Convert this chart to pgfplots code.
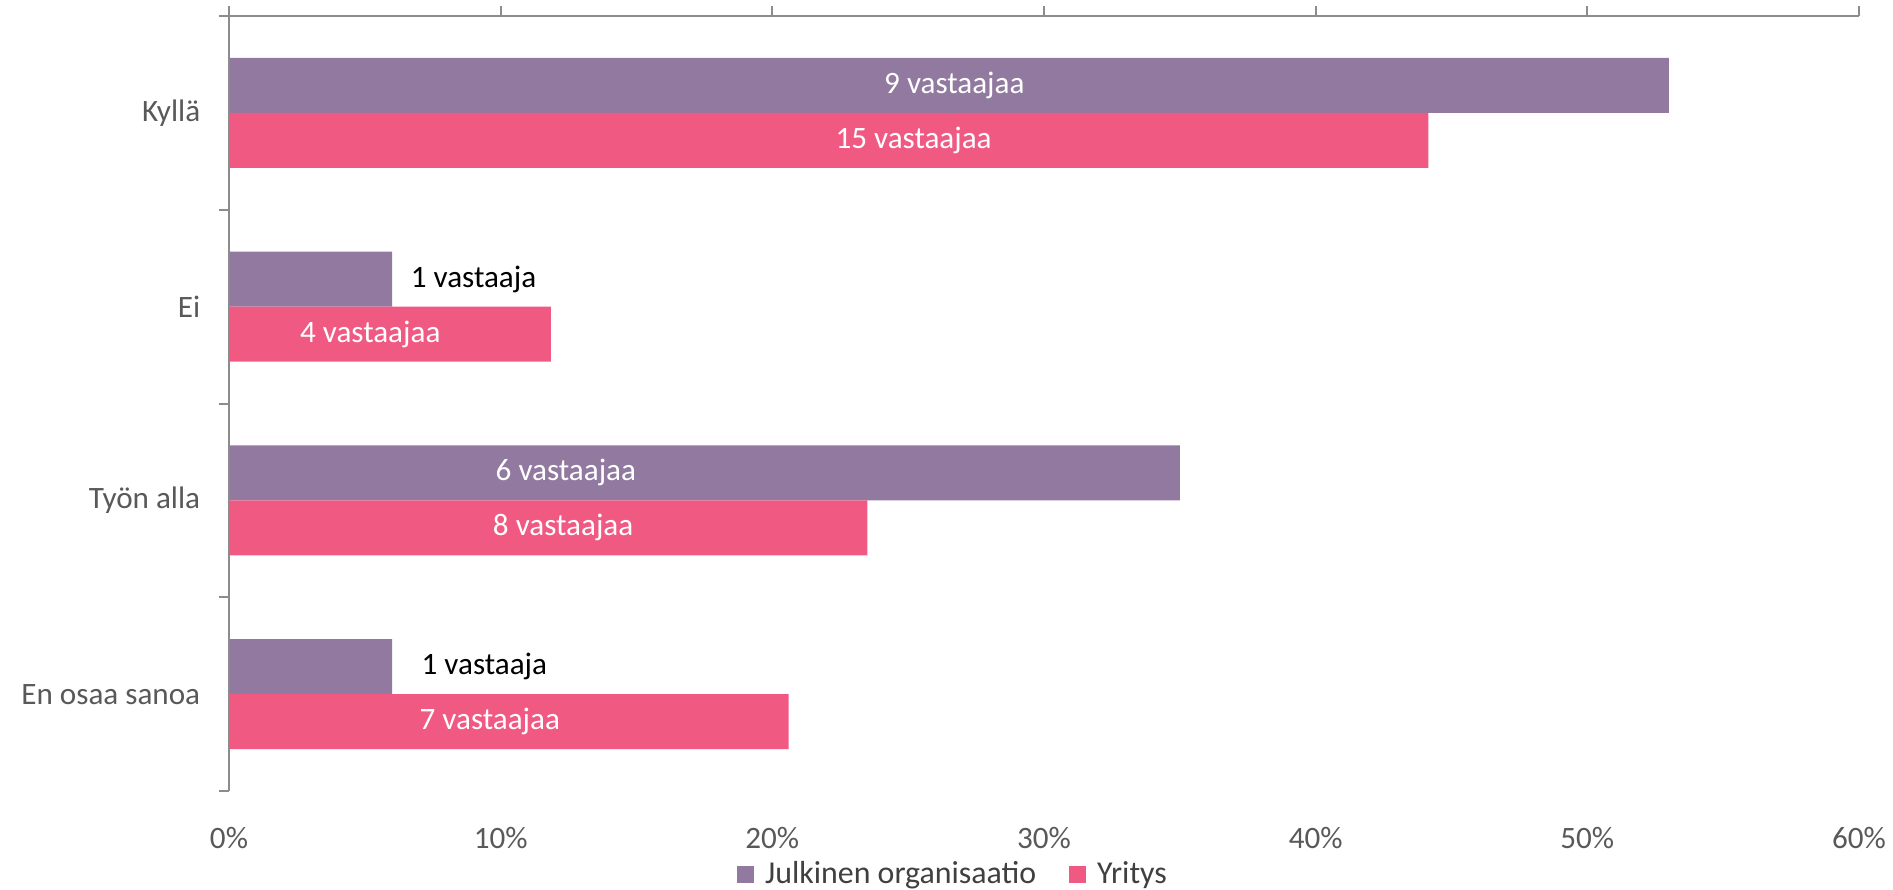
\documentclass[border=0pt]{standalone}
\usepackage{fontspec}
\setmainfont{Carlito}
\usepackage{pgfplots}
\pgfplotsset{compat=1.18}
\definecolor{jpurple}{RGB}{145,121,160}
\definecolor{ypink}{RGB}{240,90,130}
\definecolor{axgray}{RGB}{140,140,140}
\definecolor{txtgray}{RGB}{89,89,89}
\definecolor{leggray}{RGB}{64,64,64}
\begin{document}
\begin{tikzpicture}
\useasboundingbox (0,0) rectangle (757.2bp,356bp);
\begin{axis}[
  at={(91.6bp,39.6bp)}, anchor=south west,
  scale only axis, width=652bp, height=310bp,
  xbar, bar width=0.284,
  xmin=0, xmax=60, ymin=-0.5, ymax=3.5,
  clip=false,
  axis line style={draw=none},
  font=\fontsize{12.5}{15}\selectfont,
  xtick={0,10,20,30,40,50,60},
  xticklabels={0\%,10\%,20\%,30\%,40\%,50\%,60\%},
  xtick pos=right, xticklabel pos=left,
  xticklabel style={text=txtgray, yshift=-7bp},
  ytick={-0.5,0.5,1.5,2.5,3.5}, yticklabels={},
  ytick pos=left,
  extra y ticks={0,1,2,3},
  extra y tick labels={En osaa sanoa,Työn alla,Ei,Kyllä},
  extra y tick style={major tick length=0pt, yticklabel style={text=txtgray, xshift=-8bp}},
  tick align=outside, major tick length=4bp,
  tick style={draw=axgray, line width=0.8bp},
  legend style={at={(0.445,-0.108)}, anchor=center, draw=none, legend columns=2,
    font=\fontsize{12.8}{15}\selectfont, text=leggray,
    /tikz/every odd column/.append style={column sep=2.5bp},
    /tikz/every even column/.append style={column sep=11bp}},
  legend image code/.code={\fill[#1] (0bp,-3.4bp) rectangle (6.8bp,3.4bp);},
]
\addplot[draw=none, fill=jpurple, bar shift=0.142] coordinates {(6.0,0) (35.0,1) (6.0,2) (53.0,3)};
\addlegendentry{Julkinen organisaatio}
\addplot[draw=none, fill=ypink, bar shift=-0.142] coordinates {(20.6,0) (23.5,1) (11.85,2) (44.15,3)};
\addlegendentry{Yritys}
\draw[axgray, line width=0.8bp] (axis cs:0,3.5) -- (axis cs:60,3.5);
\draw[axgray, line width=0.8bp] (axis cs:0,3.5) -- (axis cs:0,-0.5);
\node[white] at (axis cs:26.7,3.142) {9 vastaajaa};
\node[white] at (axis cs:25.2,2.858) {15 vastaajaa};
\node[black] at (axis cs:9.0,2.142) {1 vastaaja};
\node[white] at (axis cs:5.2,1.858) {4 vastaajaa};
\node[white] at (axis cs:12.4,1.142) {6 vastaajaa};
\node[white] at (axis cs:12.3,0.858) {8 vastaajaa};
\node[black] at (axis cs:9.4,0.142) {1 vastaaja};
\node[white] at (axis cs:9.6,-0.142) {7 vastaajaa};
\end{axis}
\end{tikzpicture}
\end{document}
